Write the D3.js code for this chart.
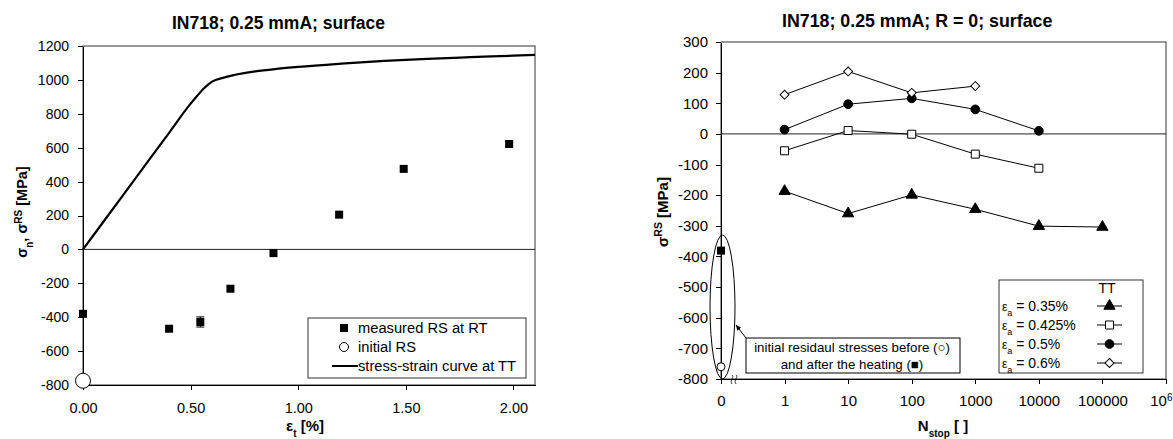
<!DOCTYPE html>
<html>
<head>
<meta charset="utf-8">
<script src="https://cdn.jsdelivr.net/npm/d3@7"></script>
<style>
    body { margin: 0; background: #fff; }
    text { font-family: "Liberation Sans", Arial, sans-serif; fill: #000; }
    .axis path, .axis line { stroke: #000; shape-rendering: crispEdges; }
</style>
</head>
<body>
<script>
'use strict';

// left chart: residual stress vs. total strain
var strainTicks = [0, 0.5, 1.0, 1.5, 2.0];
var stressTicks = [-800, -600, -400, -200, 0, 200, 400, 600, 800, 1000, 1200];
var measuredStrain = [0, 0.40, 0.545, 0.685, 0.885, 1.19, 1.49, 1.98];
var measuredRS = [-380, -468, -428, -232, -22, 205, 475, 622];
var measuredErr = [0, 0, 30, 0, 0, 0, 0, 12];
var initialStrain = [0];
var initialRS = [-775];
var curveStrain = [0, 0.1, 0.2, 0.3, 0.4, 0.5, 0.53, 0.56, 0.6, 0.65, 0.7, 0.8, 0.9, 1.0, 1.2, 1.4, 1.6, 1.8, 2.0, 2.1];
var curveStress = [0, 172, 344, 516, 688, 860, 905, 948, 990, 1012, 1028, 1050, 1065, 1077, 1096, 1112, 1124, 1134, 1143, 1148];

// right chart: residual stress vs. cycles
var cycleTicks = [0, 1, 10, 100, 1000, 10000, 100000, 1000000];
var cycleTickLabels = ["0", "1", "10", "100", "1000", "10000", "100000", "10^6"];
var rsTicks = [-800, -700, -600, -500, -400, -300, -200, -100, 0, 100, 200, 300];
var nStop = [1, 10, 100, 1000, 10000, 100000];
var rsAmp035 = [-187, -260, -199, -246, -301, -304];
var rsAmp0425 = [-55, 11, -1, -66, -112, null];
var rsAmp05 = [14, 97, 116, 80, 10, null];
var rsAmp06 = [128, 204, 134, 156, null, null];
var seriesLabels = ["0.35%", "0.425%", "0.5%", "0.6%"];
var heatedRS = [-381];
var beforeRS = [-760];

var svg = d3.select("body").append("svg")
    .attr("width", 1173)
    .attr("height", 439);

svg.append("defs").append("marker")
    .attr("id", "arrow")
    .attr("viewBox", "0 0 10 10")
    .attr("refX", 9).attr("refY", 5)
    .attr("markerWidth", 6).attr("markerHeight", 6)
    .attr("orient", "auto")
    .append("path")
    .attr("d", "M0,1 L10,5 L0,9 Z")
    .attr("fill", "#000");

function drawSymbol(g, sym, x, y) {
    g.append("path")
        .attr("d", d3.symbol().type(sym.type).size(sym.size)())
        .attr("transform", "translate(" + x + "," + y + ") rotate(" + (sym.rotate || 0) + ")")
        .attr("fill", sym.fill)
        .attr("stroke", "#000")
        .attr("stroke-width", 1);
}

function tickFont(size) {
    return function(g) {
        g.selectAll(".tick text")
            .style("font-family", "'Liberation Sans', Arial, sans-serif")
            .style("font-size", size);
    };
}

var plainNumber = function(d) { return String(d); };

// ---------- left chart ----------
var left = svg.append("g");
var lx = d3.scaleLinear().domain([0, 2.1]).range([83, 535]);
var ly = d3.scaleLinear().domain([-800, 1200]).range([385, 46]);

left.append("rect")
    .attr("x", lx(0)).attr("y", ly(1200))
    .attr("width", lx(2.1) - lx(0)).attr("height", ly(-800) - ly(1200))
    .attr("fill", "none").attr("stroke", "#333");

left.append("line")
    .attr("x1", lx(0)).attr("x2", lx(2.1))
    .attr("y1", ly(0)).attr("y2", ly(0))
    .attr("stroke", "#222");

left.append("g").attr("class", "axis")
    .attr("transform", "translate(" + lx(0) + ",0)")
    .call(d3.axisLeft(ly).tickValues(stressTicks).tickFormat(plainNumber).tickSize(5).tickSizeOuter(0).tickPadding(9))
    .call(tickFont("14px"));

left.append("g").attr("class", "axis")
    .attr("transform", "translate(0," + ly(-800) + ")")
    .call(d3.axisBottom(lx).tickValues(strainTicks).tickFormat(d3.format(".2f")).tickSize(5).tickSizeOuter(0).tickPadding(13))
    .call(tickFont("14.5px"));

var curveLine = d3.line().curve(d3.curveMonotoneX)
    .x(function(d, i) { return lx(curveStrain[i]); })
    .y(function(d) { return ly(d); });

left.append("path")
    .datum(curveStress)
    .attr("d", curveLine)
    .attr("fill", "none")
    .attr("stroke", "#000")
    .attr("stroke-width", 2.2);

// error bars
measuredStrain.forEach(function(s, i) {
    if (measuredErr[i] > 0) {
        var x = lx(s);
        left.append("line")
            .attr("x1", x).attr("x2", x)
            .attr("y1", ly(measuredRS[i] - measuredErr[i]))
            .attr("y2", ly(measuredRS[i] + measuredErr[i]))
            .attr("stroke", "#000");
        [-1, 1].forEach(function(k) {
            left.append("line")
                .attr("x1", x - 4).attr("x2", x + 4)
                .attr("y1", ly(measuredRS[i] + k * measuredErr[i]))
                .attr("y2", ly(measuredRS[i] + k * measuredErr[i]))
                .attr("stroke", "#000");
        });
    }
});

left.selectAll(".measured")
    .data(measuredRS)
    .enter().append("rect")
    .attr("class", "measured")
    .attr("x", function(d, i) { return lx(measuredStrain[i]) - 4; })
    .attr("y", function(d) { return ly(d) - 4; })
    .attr("width", 8).attr("height", 8)
    .attr("fill", "#000");

left.selectAll(".initial")
    .data(initialRS)
    .enter().append("circle")
    .attr("class", "initial")
    .attr("cx", function(d, i) { return lx(initialStrain[i]); })
    .attr("cy", function(d) { return ly(d); })
    .attr("r", 7.5)
    .attr("fill", "#fff")
    .attr("stroke", "#000");

left.append("text")
    .attr("x", 172).attr("y", 29)
    .style("font-size", "17.5px").style("font-weight", "bold")
    .text("IN718; 0.25 mmA; surface");

var lyLabel = left.append("text")
    .attr("transform", "translate(27,212) rotate(-90)")
    .attr("text-anchor", "middle")
    .style("font-size", "14.5px").style("font-weight", "bold");
lyLabel.append("tspan").text("σ");
lyLabel.append("tspan").attr("baseline-shift", "sub").style("font-size", "10px").text("n");
lyLabel.append("tspan").text(", σ");
lyLabel.append("tspan").attr("baseline-shift", "super").style("font-size", "10px").text("RS");
lyLabel.append("tspan").text(" [MPa]");

var lxLabel = left.append("text")
    .attr("x", 305).attr("y", 431)
    .attr("text-anchor", "middle")
    .style("font-size", "15px").style("font-weight", "bold");
lxLabel.append("tspan").text("ε");
lxLabel.append("tspan").attr("baseline-shift", "sub").style("font-size", "10px").text("t");
lxLabel.append("tspan").text(" [%]");

// left legend
var lleg = left.append("g");
lleg.append("rect")
    .attr("x", 308).attr("y", 318).attr("width", 218).attr("height", 60)
    .attr("fill", "#fff").attr("stroke", "#333");
lleg.append("rect").attr("x", 340).attr("y", 324).attr("width", 8).attr("height", 8).attr("fill", "#000");
lleg.append("circle").attr("cx", 344).attr("cy", 347).attr("r", 4.5).attr("fill", "#fff").attr("stroke", "#000");
lleg.append("line").attr("x1", 332).attr("x2", 358).attr("y1", 366).attr("y2", 366).attr("stroke", "#000").attr("stroke-width", 2);
["measured RS at RT", "initial RS", "stress-strain curve at TT"].forEach(function(t, i) {
    lleg.append("text")
        .attr("x", 358).attr("y", 333 + i * 19)
        .style("font-size", "14.7px")
        .text(t);
});

// ---------- right chart ----------
var right = svg.append("g");
var rxLog = d3.scaleLog().domain([0.1, 1e6]).range([721, 1166]);
function rx(n) { return rxLog(n === 0 ? 0.1 : n); }
var ry = d3.scaleLinear().domain([-800, 300]).range([379, 42]);

right.append("rect")
    .attr("x", 721).attr("y", ry(300))
    .attr("width", rx(1e6) - 721).attr("height", ry(-800) - ry(300))
    .attr("fill", "none").attr("stroke", "#333");

right.append("line")
    .attr("x1", 721).attr("x2", rx(1e6))
    .attr("y1", ry(0)).attr("y2", ry(0))
    .attr("stroke", "#222");

right.append("g").attr("class", "axis")
    .attr("transform", "translate(721,0)")
    .call(d3.axisLeft(ry).tickValues(rsTicks).tickFormat(plainNumber).tickSize(5).tickSizeOuter(0).tickPadding(8))
    .call(tickFont("15px"));

var xAxisR = right.append("g").attr("class", "axis")
    .attr("transform", "translate(0," + ry(-800) + ")")
    .call(d3.axisBottom(rxLog)
        .tickValues(cycleTicks.map(function(n) { return n === 0 ? 0.1 : n; }))
        .tickFormat(function(d, i) { return cycleTickLabels[i]; })
        .tickSize(5).tickSizeOuter(0).tickPadding(11))
    .call(tickFont("15px"));

// superscript for 10^6
xAxisR.selectAll(".tick text").each(function(d, i) {
    var label = cycleTickLabels[i];
    if (label.indexOf("^") > 0) {
        var parts = label.split("^");
        var t = d3.select(this).text(null).attr("text-anchor", "end").attr("x", 6);
        t.append("tspan").text(parts[0]);
        t.append("tspan").attr("baseline-shift", "super").style("font-size", "10px").text(parts[1]);
    }
});

// axis break mark near zero
[0, 4].forEach(function(dx) {
    right.append("path")
        .attr("d", "M" + (732 + dx) + ",375 c 3,2 -3,5 0,9")
        .attr("fill", "none").attr("stroke", "#000").attr("stroke-width", 0.8);
});

var seriesData = [rsAmp035, rsAmp0425, rsAmp05, rsAmp06];
var seriesSymbol = [
    { type: d3.symbolTriangle, size: 55, fill: "#000" },
    { type: d3.symbolSquare, size: 64, fill: "#fff" },
    { type: d3.symbolCircle, size: 60, fill: "#000" },
    { type: d3.symbolSquare, size: 40, fill: "#fff", rotate: 45 }
];

var line = d3.line()
    .defined(function(d) { return d !== null; })
    .x(function(d, i) { return rx(nStop[i]); })
    .y(function(d) { return ry(d); });

seriesData.forEach(function(vals, s) {
    right.append("path")
        .datum(vals)
        .attr("d", line)
        .attr("fill", "none")
        .attr("stroke", "#000")
        .attr("stroke-width", 1);
    vals.forEach(function(v, i) {
        if (v !== null) {
            drawSymbol(right, seriesSymbol[s], rx(nStop[i]), ry(v));
        }
    });
});

// initial residual stresses
right.append("ellipse")
    .attr("cx", 722.5).attr("cy", ry(-565))
    .attr("rx", 12.5).attr("ry", 72)
    .attr("fill", "none").attr("stroke", "#000");

right.selectAll(".heated")
    .data(heatedRS)
    .enter().append("rect")
    .attr("x", rx(0) - 4)
    .attr("y", function(d) { return ry(d) - 4; })
    .attr("width", 8).attr("height", 8)
    .attr("fill", "#000");

right.selectAll(".before")
    .data(beforeRS)
    .enter().append("circle")
    .attr("cx", rx(0))
    .attr("cy", function(d) { return ry(d); })
    .attr("r", 4)
    .attr("fill", "#fff").attr("stroke", "#000");

// annotation
right.append("line")
    .attr("x1", 746).attr("y1", 338)
    .attr("x2", 736).attr("y2", 325)
    .attr("stroke", "#000")
    .attr("marker-end", "url(#arrow)");
right.append("rect")
    .attr("x", 746).attr("y", 338).attr("width", 214).attr("height", 35)
    .attr("fill", "#fff").attr("stroke", "#000");
right.append("text")
    .attr("x", 852).attr("y", 352)
    .attr("text-anchor", "middle")
    .style("font-size", "13.3px")
    .text("initial residaul stresses before (\u25CB)");
right.append("text")
    .attr("x", 852).attr("y", 369)
    .attr("text-anchor", "middle")
    .style("font-size", "13.3px")
    .text("and after the heating (\u25A0)");

right.append("text")
    .attr("x", 782).attr("y", 27)
    .style("font-size", "17.8px").style("font-weight", "bold")
    .text("IN718; 0.25 mmA; R = 0; surface");

var ryLabel = right.append("text")
    .attr("transform", "translate(668,212) rotate(-90)")
    .attr("text-anchor", "middle")
    .style("font-size", "15px").style("font-weight", "bold");
ryLabel.append("tspan").text("σ");
ryLabel.append("tspan").attr("baseline-shift", "super").style("font-size", "10.5px").text("RS");
ryLabel.append("tspan").text(" [MPa]");

var rxLabel = right.append("text")
    .attr("x", 943).attr("y", 431)
    .attr("text-anchor", "middle")
    .style("font-size", "15px").style("font-weight", "bold");
rxLabel.append("tspan").text("N");
rxLabel.append("tspan").attr("baseline-shift", "sub").style("font-size", "10px").text("stop");
rxLabel.append("tspan").text(" [ ]");

// right legend
var rleg = right.append("g");
rleg.append("rect")
    .attr("x", 999).attr("y", 280).attr("width", 144).attr("height", 93)
    .attr("fill", "#fff").attr("stroke", "#333");
rleg.append("text")
    .attr("x", 1107).attr("y", 293)
    .attr("text-anchor", "middle")
    .style("font-size", "14px")
    .text("TT");
seriesLabels.forEach(function(lbl, s) {
    var yy = 306 + s * 19;
    var t = rleg.append("text")
        .attr("x", 1002).attr("y", yy + 5)
        .style("font-size", "14px");
    t.append("tspan").style("font-size", "12px").text("ε");
    t.append("tspan").attr("baseline-shift", "sub").style("font-size", "9px").text("a");
    t.append("tspan").text(" = " + lbl);
    rleg.append("line")
        .attr("x1", 1097).attr("x2", 1122)
        .attr("y1", yy).attr("y2", yy)
        .attr("stroke", "#000");
    drawSymbol(rleg, seriesSymbol[s], 1109.5, yy);
});
</script>
</body>
</html>
